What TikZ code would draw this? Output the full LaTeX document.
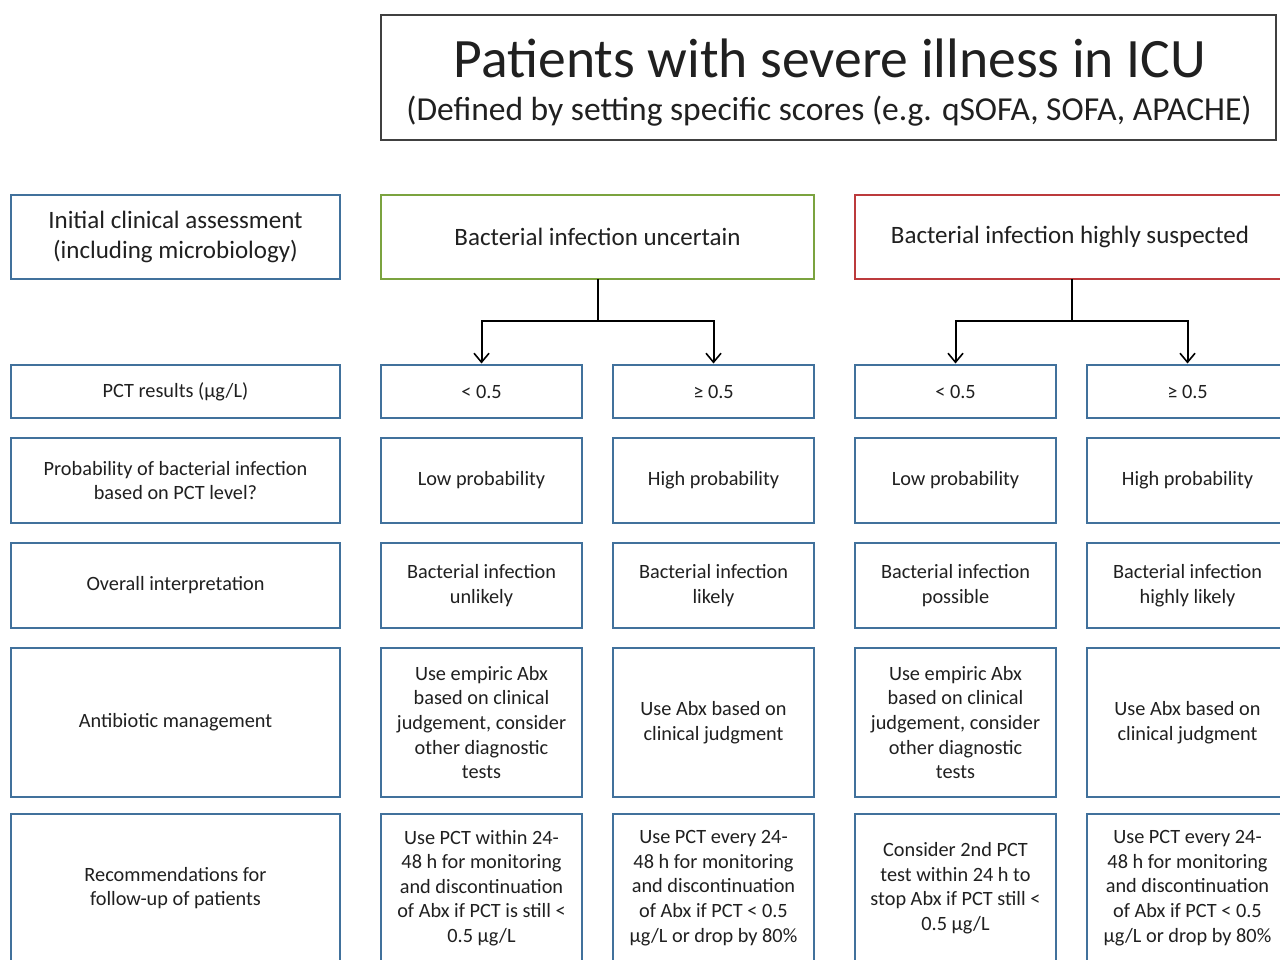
\documentclass[tikz,border=0pt]{standalone}
\usepackage{fontspec}
\setmainfont{Carlito}
\usetikzlibrary{arrows.meta}
\definecolor{pblue}{HTML}{41719C}
\definecolor{pgreen}{HTML}{7BA33F}
\definecolor{pred}{HTML}{BC3A3C}
\definecolor{txt}{HTML}{202020}
\definecolor{tbord}{HTML}{404040}
\tikzset{
  bx/.style={draw=pblue, line width=2.6pt, inner sep=0pt, outer sep=0pt, align=center, anchor=north west, text=txt, font=\fontsize{20.3}{24.6}\selectfont},
  hd/.style={bx, font=\fontsize{25}{30}\selectfont},
  wl/.style={minimum width=329pt},
  wc/.style={minimum width=201pt},
  h0/.style={minimum height=84pt},
  h1/.style={minimum height=53pt},
  h2/.style={minimum height=85pt},
  h3/.style={minimum height=85pt},
  h4/.style={minimum height=149pt},
  h5/.style={minimum height=148pt},
  conn/.style={draw=black, line width=2pt},
  arr/.style={conn, -{Straight Barb[length=9pt,width=15pt,line width=1.6pt]}}
}
\begin{document}
\begin{tikzpicture}[x=1pt,y=-1pt]
\useasboundingbox (0,0) rectangle (1280,960);
\clip (0,0) rectangle (1280,960);
\fill[white] (0,0) rectangle (1280,960);
% title
\node[draw=tbord, line width=1.8pt, anchor=north west, minimum width=895pt, minimum height=125pt, inner sep=0pt, outer sep=0pt] (title) at (381,15) {};
\node[text=txt, font=\fontsize{55.6}{60}\selectfont, anchor=base] (t1) at (830,78) {Patients with severe illness in ICU};
\node[text=txt, font=\fontsize{33.5}{38}\selectfont, anchor=base] (t2) at (829,121) {(Defined by setting specific scores (e.g. qSOFA, SOFA, APACHE)};
% row 0
\node[hd, wl, h0] (l0) at (11,195) {Initial clinical assessment\\(including microbiology)};
\node[hd, h0, draw=pgreen, minimum width=433pt] (g) at (381,195) {Bacterial infection uncertain};
\node[hd, h0, draw=pred, minimum width=434pt] (r) at (855,195) {\hspace*{-2pt}Bacterial infection highly suspected\hspace*{2pt}};
% row 1
\node[bx, wl, h1] (l1) at (11,365) {PCT results (µg/L)};
\node[bx, wc, h1] (a1) at (381,365) {< 0.5};
\node[bx, wc, h1] (b1) at (613,365) {≥ 0.5};
\node[bx, wc, h1] (c1) at (855,365) {< 0.5};
\node[bx, wc, h1] (d1) at (1087,365) {≥ 0.5};
% row 2
\node[bx, wl, h2] (l2) at (11,438) {Probability of bacterial infection\\based on PCT level?};
\node[bx, wc, h2] (a2) at (381,438) {Low probability};
\node[bx, wc, h2] (b2) at (613,438) {High probability};
\node[bx, wc, h2] (c2) at (855,438) {Low probability};
\node[bx, wc, h2] (d2) at (1087,438) {High probability};
% row 3
\node[bx, wl, h3] (l3) at (11,543) {Overall interpretation};
\node[bx, wc, h3] (a3) at (381,543) {Bacterial infection\\unlikely};
\node[bx, wc, h3] (b3) at (613,543) {Bacterial infection\\likely};
\node[bx, wc, h3] (c3) at (855,543) {Bacterial infection\\possible};
\node[bx, wc, h3] (d3) at (1087,543) {Bacterial infection\\highly likely};
% row 4
\node[bx, wl, h4] (l4) at (11,648) {Antibiotic management};
\node[bx, wc, h4] (a4) at (381,648) {Use empiric Abx\\based on clinical\\judgement, consider\\other diagnostic\\tests};
\node[bx, wc, h4] (b4) at (613,648) {Use Abx based on\\clinical judgment};
\node[bx, wc, h4] (c4) at (855,648) {Use empiric Abx\\based on clinical\\judgement, consider\\other diagnostic\\tests};
\node[bx, wc, h4] (d4) at (1087,648) {Use Abx based on\\clinical judgment};
% row 5
\node[bx, wl, h5] (l5) at (11,814) {Recommendations for\\follow-up of patients};
\node[bx, wc, h5] (a5) at (381,814) {Use PCT within 24-\\48 h for monitoring\\and discontinuation\\of Abx if PCT is still <\\0.5 µg/L};
\node[bx, wc, h5] (b5) at (613,814) {Use PCT every 24-\\48 h for monitoring\\and discontinuation\\of Abx if PCT < 0.5\\µg/L or drop by 80\%};
\node[bx, wc, h5] (c5) at (855,814) {Consider 2nd PCT\\test within 24 h to\\stop Abx if PCT still <\\0.5 µg/L};
\node[bx, wc, h5] (d5) at (1087,814) {Use PCT every 24-\\48 h for monitoring\\and discontinuation\\of Abx if PCT < 0.5\\µg/L or drop by 80\%};
% connectors
\coordinate (gj) at ([yshift=-42pt]g.south);
\coordinate (rj) at ([yshift=-42pt]r.south);
\draw[conn] (g.south) -- (gj);
\draw[arr] (gj) -| ([yshift=1.5pt]a1.north);
\draw[arr] (gj) -| ([yshift=1.5pt]b1.north);
\draw[conn] (r.south) -- (rj);
\draw[arr] (rj) -| ([yshift=1.5pt]c1.north);
\draw[arr] (rj) -| ([yshift=1.5pt]d1.north);
\end{tikzpicture}
\end{document}
